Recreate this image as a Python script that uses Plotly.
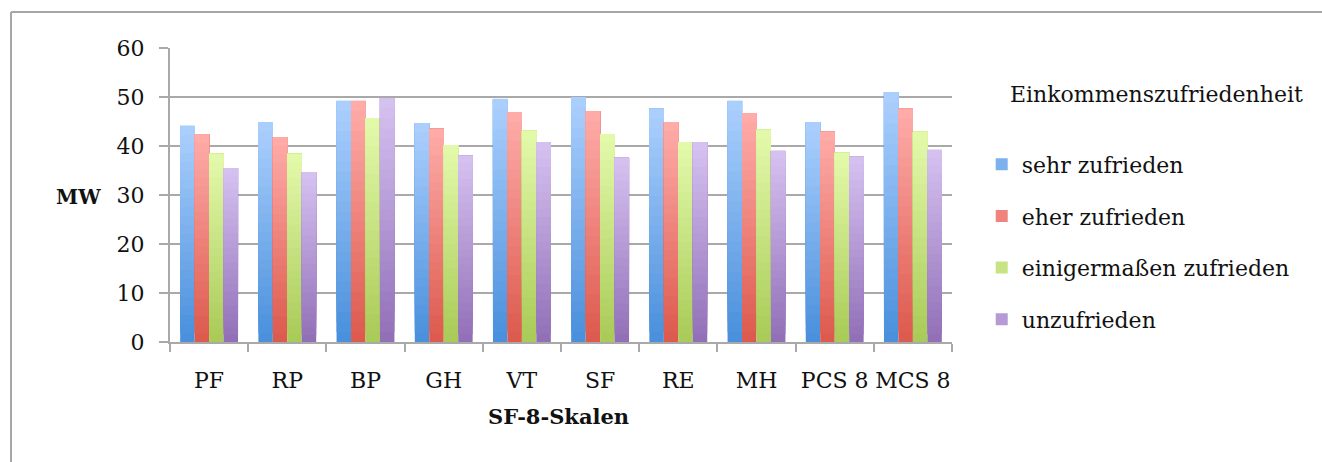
import plotly.graph_objects as go

# SF-8 scale means by income satisfaction group
categories = ["PF", "RP", "BP", "GH", "VT", "SF", "RE", "MH", "PCS 8", "MCS 8"]
sehr_zufrieden = [44.1, 44.9, 49.2, 44.7, 49.6, 50.0, 47.6, 49.2, 44.9, 51.0]
eher_zufrieden = [42.4, 41.8, 49.2, 43.5, 46.9, 47.1, 44.9, 46.7, 42.9, 47.6]
einigermassen_zufrieden = [38.4, 38.4, 45.7, 40.2, 43.1, 42.4, 40.8, 43.3, 38.6, 42.9]
unzufrieden = [35.5, 34.7, 49.8, 38.0, 40.8, 37.6, 40.8, 39.0, 37.8, 39.2]

series_names = ["sehr zufrieden", "eher zufrieden", "einigermaßen zufrieden", "unzufrieden"]
series_values = [sehr_zufrieden, eher_zufrieden, einigermassen_zufrieden, unzufrieden]
# (bottom colour, top colour) of each series' vertical gradient
series_colors = [
    ("#4a90dc", "#abcffd"),
    ("#dc5a4e", "#ffaba8"),
    ("#a9cb58", "#e3f9aa"),
    ("#9270b8", "#d5c1f0"),
]

FONT = "DejaVu Serif"
GRID = "#a9a9a9"
TEXT = "#111111"
N_LAYERS = 24


def hex_to_rgb(h):
    h = h.lstrip("#")
    return tuple(int(h[i:i + 2], 16) for i in (0, 2, 4))


def mix(c0, c1, t):
    a, b = hex_to_rgb(c0), hex_to_rgb(c1)
    return "rgb({},{},{})".format(*[round(a[i] + (b[i] - a[i]) * t) for i in range(3)])


fig = go.Figure()

for s, (name, vals, (c_bot, c_top)) in enumerate(zip(series_names, series_values, series_colors)):
    # each bar is painted as overlapping layers, each starting a bit higher
    # and a bit lighter, which gives a bottom-to-top gradient
    for k in range(N_LAYERS):
        frac = k / N_LAYERS
        bases = [v * frac for v in vals]
        heights = [v - b for v, b in zip(vals, bases)]
        fig.add_trace(go.Bar(
            x=categories,
            y=heights,
            base=bases,
            name=name,
            offsetgroup=str(s),
            legendgroup=name,
            showlegend=(k == N_LAYERS // 2),
            marker=dict(color=mix(c_bot, c_top, k / (N_LAYERS - 1)), line=dict(width=0)),
            hoverinfo="skip",
        ))

fig.update_layout(
    width=1322,
    height=462,
    margin=dict(l=170, r=370, t=48, b=120),
    paper_bgcolor="white",
    plot_bgcolor="white",
    barmode="group",
    bargap=0.26,
    bargroupgap=0,
    font=dict(family=FONT, size=22, color=TEXT),
    showlegend=True,
    legend=dict(
        x=1.038, xanchor="left",
        y=0.675, yanchor="top",
        traceorder="grouped",
        tracegroupgap=20,
        font=dict(family=FONT, size=22, color=TEXT),
        bgcolor="rgba(0,0,0,0)",
    ),
    xaxis=dict(
        type="category",
        showline=True, linecolor=GRID, linewidth=2,
        ticks="outside", tickson="boundaries", ticklen=8, tickcolor=GRID, tickwidth=2,
        showgrid=False,
        tickangle=0,
        ticklabelstandoff=18,
        tickfont=dict(family=FONT, size=22, color=TEXT),
    ),
    yaxis=dict(
        range=[0, 60],
        tickvals=[0, 10, 20, 30, 40, 50, 60],
        showline=True, linecolor=GRID, linewidth=2,
        ticks="outside", ticklen=9, tickcolor=GRID, tickwidth=2,
        showgrid=True, gridcolor=GRID, gridwidth=2,
        zeroline=False,
        ticklabelstandoff=10,
        tickfont=dict(family=FONT, size=22, color=TEXT),
    ),
    shapes=[
        # outer frame of the chart area: top and left edges
        dict(type="line", xref="paper", yref="paper",
             x0=-0.2033, x1=1.7, y0=1.1224, y1=1.1224,
             line=dict(color="#a6a6a6", width=2)),
        dict(type="line", xref="paper", yref="paper",
             x0=-0.2033, x1=-0.2033, y0=-0.6, y1=1.1224,
             line=dict(color="#a6a6a6", width=2)),
    ],
    annotations=[
        dict(text="<b>MW</b>", xref="paper", yref="paper", x=-0.1176, y=0.493,
             showarrow=False, xanchor="center", yanchor="middle",
             font=dict(family=FONT, size=20, color=TEXT)),
        dict(text="<b>SF-8-Skalen</b>", xref="paper", yref="paper", x=0.4974, y=-0.255,
             showarrow=False, xanchor="center", yanchor="middle",
             font=dict(family=FONT, size=21, color=TEXT)),
        dict(text="Einkommenszufriedenheit", xref="paper", yref="paper", x=1.261, y=0.8435,
             showarrow=False, xanchor="center", yanchor="middle",
             font=dict(family=FONT, size=22, color=TEXT)),
    ],
)

# keep the page free of scrollbars around the fixed-size figure
fig.write_html(
    "out.html",
    post_script="document.documentElement.style.overflow='hidden';"
                "document.body.style.margin='0';document.body.style.overflow='hidden';",
)
